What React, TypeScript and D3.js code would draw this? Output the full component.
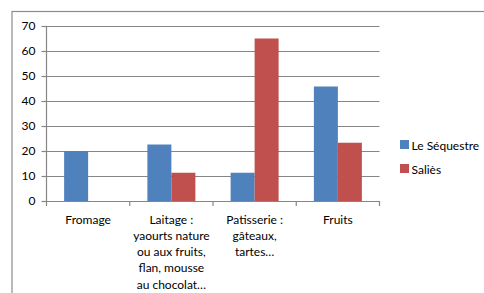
import React from "react";
import * as d3 from "d3";

const categories = ["Fromage", "Laitage", "Patisserie", "Fruits"];
const categoryLabels = [
  ["Fromage"],
  ["Laitage :", "yaourts nature", "ou aux fruits,", "flan, mousse", "au chocolat…"],
  ["Patisserie :", "gâteaux,", "tartes…"],
  ["Fruits"],
];
const seriesNames = ["Le Séquestre", "Saliès"];
const sequestre = [20, 22.6, 11.3, 45.8];
const salies = [0, 11.3, 65, 23.3];
const yTicks = [0, 10, 20, 30, 40, 50, 60, 70];
const colors = ["#4F81BD", "#C0504D"];

export default function App() {
  const W = 484, H = 293;
  const left = 46.5, right = 379.5, top = 26, bottom = 201;
  const x = d3.scaleBand<string>().domain(categories).range([left, right]).paddingInner(0).paddingOuter(0);
  const y = d3.scaleLinear().domain([0, 70]).range([bottom, top]);
  const series = [sequestre, salies];
  const groupW = 48;
  const sub = d3.scaleBand<number>().domain([0, 1]).range([0, groupW]);
  const grid = "#868686";
  const font = "Lato, 'Open Sans', sans-serif";
  const fs = 12;
  return (
    <svg width={W} height={H} style={{ position: "absolute", left: 0, top: 0, background: "#fff" }}>
      <rect x={12} y={11.5} width={W} height={H} fill="#fff" stroke="#8c8c8c" strokeWidth={1.2} />
      {yTicks.map((t) => (
        <g key={t}>
          {t > 0 && <line x1={left} x2={right} y1={Math.round(y(t)) + 0.5} y2={Math.round(y(t)) + 0.5} stroke={grid} strokeWidth={1.2} />}
          <line x1={left - 5} x2={left} y1={Math.round(y(t)) + 0.5} y2={Math.round(y(t)) + 0.5} stroke={grid} strokeWidth={1.2} />
          <text x={35.5} y={y(t) + 4.3} textAnchor="end" fontFamily={font} fontSize={fs} fill="#000">{t}</text>
        </g>
      ))}
      {categories.map((c, i) => (
        <g key={c}>
          {series.map((s, k) => {
            const v = s[i];
            if (!v) return null;
            const bx = (x(c) as number) + x.bandwidth() / 2 - groupW / 2 + (sub(k) as number);
            return <rect key={k} x={bx} y={y(v)} width={sub.bandwidth()} height={bottom - y(v)} fill={colors[k]} />;
          })}
          {categoryLabels[i].map((line, j) => (
            <text key={j} x={(x(c) as number) + x.bandwidth() / 2} y={223.5 + j * 16.3} textAnchor="middle" fontFamily={font} fontSize={fs} fill="#000">{line}</text>
          ))}
        </g>
      ))}
      <line x1={left} x2={left} y1={top} y2={bottom} stroke={grid} strokeWidth={1.2} />
      <line x1={left} x2={right} y1={bottom + 0.5} y2={bottom + 0.5} stroke={grid} strokeWidth={1.2} />
      {[...categories.map((c) => x(c) as number), right].map((tx, i) => (
        <line key={i} x1={tx} x2={tx} y1={bottom} y2={bottom + 5} stroke={grid} strokeWidth={1.2} />
      ))}
      {seriesNames.map((n, k) => (
        <g key={n}>
          <rect x={400} y={140 + k * 24} width={9} height={9} fill={colors[k]} />
          <text x={411.5} y={149.5 + k * 24} fontFamily={font} fontSize={fs} fill="#000">{n}</text>
        </g>
      ))}
    </svg>
  );
}
